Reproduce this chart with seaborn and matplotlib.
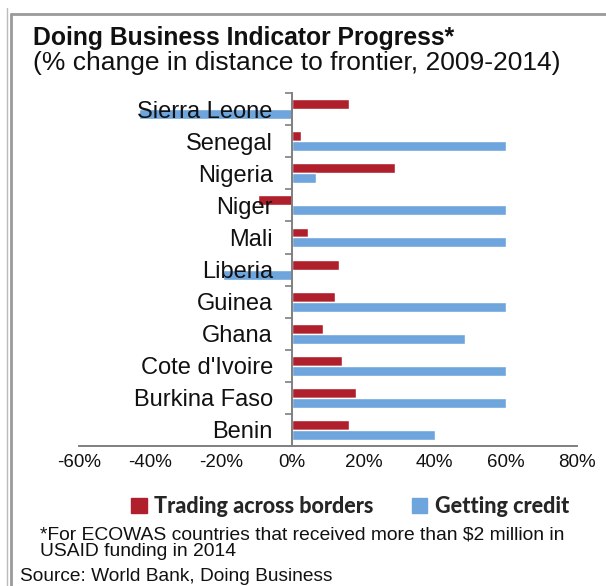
import matplotlib
matplotlib.use("Agg")
import matplotlib.pyplot as plt
import seaborn as sns
import pandas as pd
from matplotlib.patches import Rectangle
from matplotlib.lines import Line2D
from matplotlib.ticker import FuncFormatter, FixedLocator

countries = ["Sierra Leone", "Senegal", "Nigeria", "Niger", "Mali", "Liberia",
             "Guinea", "Ghana", "Cote d'Ivoire", "Burkina Faso", "Benin"]
trading = [16, 2.4, 29, -9.5, 4.5, 13, 12, 8.5, 14, 18, 16]
credit = [-43, 60, 6.7, 60, 60, -19.5, 60, 48.5, 60, 60, 40]
series = ["Trading across borders", "Getting credit"]
colors = ["#B0202C", "#6DA5DC"]
x_ticks = [-60, -40, -20, 0, 20, 40, 60, 80]

df = pd.DataFrame({
    "country": countries * 2,
    "indicator": [series[0]] * len(countries) + [series[1]] * len(countries),
    "value": trading + credit,
})

sns.set_theme(style="white")
plt.rcParams["font.family"] = ["Liberation Sans", "DejaVu Sans"]

fig = plt.figure(figsize=(6.06, 5.86), dpi=100)
ax = fig.add_axes([0.130, 0.239, 0.822, 0.602])

sns.barplot(data=df, y="country", x="value", hue="indicator", order=countries,
            hue_order=series, palette=colors, orient="h", width=0.62,
            dodge=True, gap=0, ax=ax, legend=False, saturation=1)

ax.set_xlim(-60, 80)
ax.set_ylim(len(countries) - 0.5, -0.5)
ax.set_xlabel("")
ax.set_ylabel("")
ax.xaxis.set_major_locator(FixedLocator(x_ticks))
ax.xaxis.set_major_formatter(FuncFormatter(lambda v, p: f"{int(v)}%"))

for s in ["top", "right"]:
    ax.spines[s].set_visible(False)
ax.spines["left"].set_position(("data", 0))
for s in ["left", "bottom"]:
    ax.spines[s].set_color("#7f7f7f")
    ax.spines[s].set_linewidth(1.4)

ax.tick_params(axis="x", direction="in", length=5, width=1.2, color="#7f7f7f",
               labelsize=13.5, pad=6, labelcolor="#111111")
ax.tick_params(axis="y", which="major", length=0, labelsize=17, pad=14,
               labelcolor="#111111")
ax.set_yticks([i + 0.5 for i in range(-1, len(countries) - 1)], minor=True)
ax.tick_params(axis="y", which="minor", direction="out", length=5, width=1.2,
               color="#7f7f7f", left=True)
ax.set_axisbelow(False)
ax.yaxis.set_zorder(5)

# Legend
handles = [Rectangle((0, 0), 1, 1, color=c) for c in colors]
fig.legend(handles, series, loc="center", bbox_to_anchor=(0.578, 0.135), ncol=2,
           frameon=False, handlelength=0.7, handleheight=0.7, handletextpad=0.35,
           columnspacing=1.8, prop={"family": "Lato", "weight": "black", "size": 15.5})

# Titles
fig.text(0.054, 0.935, "Doing Business Indicator Progress*", fontsize=17.8,
         fontweight="bold", va="center", ha="left", color="#111111")
fig.text(0.054, 0.892, "(% change in distance to frontier, 2009-2014)", fontsize=19,
         va="center", ha="left", color="#111111")

fig.text(0.066, 0.073, "*For ECOWAS countries that received more than $2 million in\nUSAID funding in 2014",
         fontsize=13.9, va="center", ha="left", color="#111111", linespacing=0.95)
fig.text(0.033, 0.017, "Source: World Bank, Doing Business", fontsize=13.8,
         va="center", ha="left", color="#111111")

# Frame
fig.add_artist(Line2D([11/606, 11/606], [0, 1 - 14/586], transform=fig.transFigure,
                      color="#9a9a9a", lw=2))
fig.add_artist(Line2D([11/606, 1], [1 - 14/586, 1 - 14/586], transform=fig.transFigure,
                      color="#9a9a9a", lw=2))
fig.add_artist(Line2D([7/606, 7/606], [0, 1 - 8/586], transform=fig.transFigure,
                      color="#bbbbbb", lw=1))

fig.savefig("out.png", dpi=100)
